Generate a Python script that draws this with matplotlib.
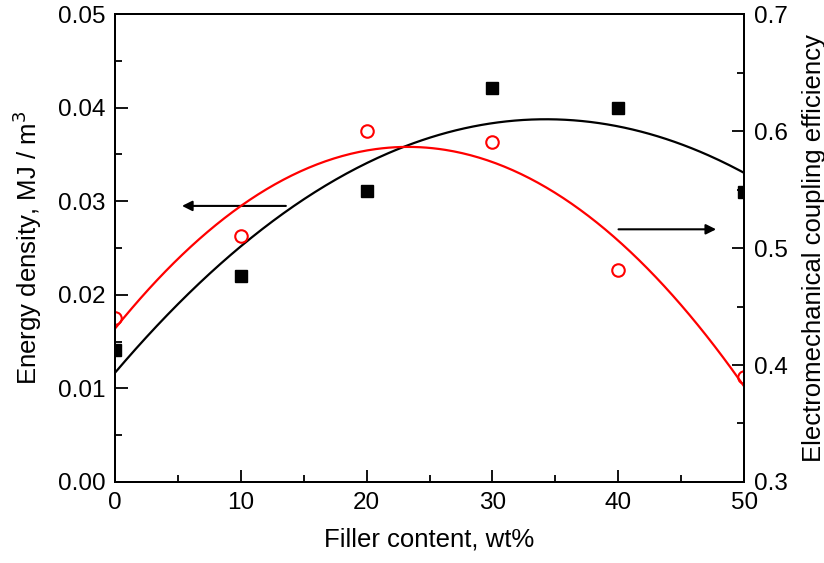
import numpy as np
import matplotlib
matplotlib.use("Agg")
import matplotlib.pyplot as plt
from matplotlib.ticker import MultipleLocator, FormatStrFormatter

plt.rcParams['font.family'] = ['Liberation Sans', 'DejaVu Sans']

filler = [0, 10, 20, 30, 40, 50]
energy_density = [0.0141, 0.022, 0.0311, 0.0421, 0.040, 0.031]
coupling_eff = [0.440, 0.510, 0.600, 0.591, 0.481, 0.390]

fig = plt.figure(figsize=(8.24, 5.63), dpi=100)
ax = fig.add_axes([0.1396, 0.1439, 0.9030 - 0.1396, 0.975 - 0.1439])
ax2 = ax.twinx()

xf = np.linspace(0, 50, 300)
pb = np.polyfit(filler, energy_density, 2)
pr = np.polyfit(filler, coupling_eff, 2)

ax.plot(xf, np.polyval(pb, xf), color='black', lw=1.6)
ax.plot(filler, energy_density, 's', color='black', ms=8, clip_on=True)
ax2.plot(xf, np.polyval(pr, xf), color='red', lw=1.6)
ax2.plot(filler, coupling_eff, 'o', mfc='none', mec='red', mew=1.5, ms=9, clip_on=True)

ax.set_xlim(0, 50)
ax.set_ylim(0, 0.05)
ax2.set_ylim(0.3, 0.7)

ax.xaxis.set_major_locator(MultipleLocator(10))
ax.xaxis.set_minor_locator(MultipleLocator(5))
ax.yaxis.set_major_locator(MultipleLocator(0.01))
ax.yaxis.set_minor_locator(MultipleLocator(0.005))
ax2.yaxis.set_major_locator(MultipleLocator(0.1))
ax2.yaxis.set_minor_locator(MultipleLocator(0.05))
ax.yaxis.set_major_formatter(FormatStrFormatter('%.2f'))
ax2.yaxis.set_major_formatter(FormatStrFormatter('%.1f'))

for a in (ax, ax2):
    a.tick_params(which='both', direction='in', labelsize=17.5, width=1.3, pad=7)
    a.tick_params(which='major', length=9)
    a.tick_params(which='minor', length=5)
    for s in a.spines.values():
        s.set_linewidth(1.4)
ax.tick_params(axis='y', which='both', right=False)
ax2.tick_params(axis='y', which='both', left=False)

ax.set_xlabel('Filler content, wt%', fontsize=18.5, labelpad=10)
ax.set_ylabel('Energy density, MJ / m$^3$', fontsize=18.5, labelpad=10)
ax2.set_ylabel('Electromechanical coupling efficiency', fontsize=18.5, labelpad=10)

ax.annotate('', xy=(5.1, 0.0295), xytext=(13.8, 0.0295),
            arrowprops=dict(arrowstyle='-|>', color='black', lw=1.5, mutation_scale=15))
ax.annotate('', xy=(48.0, 0.027), xytext=(39.8, 0.027),
            arrowprops=dict(arrowstyle='-|>', color='black', lw=1.5, mutation_scale=15))

fig.savefig('out.png', dpi=100)
